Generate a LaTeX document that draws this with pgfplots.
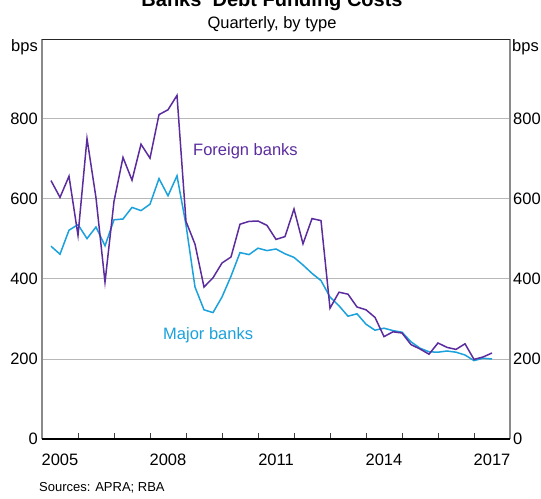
\documentclass[border=0pt]{standalone}
\usepackage{pgfplots}
\pgfplotsset{compat=1.18}
\usepackage{pgfplotstable}
\usepackage{fontspec}
\setmainfont{Liberation Sans}

\definecolor{foreign}{HTML}{5B2C9E}
\definecolor{major}{HTML}{1BA1DC}
\definecolor{gridgray}{HTML}{B8B8B8}
\definecolor{sidegray}{HTML}{8A8A8A}

% quarterly, bps
\pgfplotstableread{
x        foreign major
2005.25  646  482
2005.50  604  462
2005.75  657  522
2006.00  509  536
2006.25  751  501
2006.50  603  530
2006.75  392  483
2007.00  594  548
2007.25  704  550
2007.50  647  579
2007.75  737  571
2008.00  702  587
2008.25  811  651
2008.50  823  608
2008.75  859  658
2009.00  544  535
2009.25  487  380
2009.50  380  323
2009.75  403  316
2010.00  440  355
2010.25  455  407
2010.50  537  466
2010.75  544  461
2011.00  545  477
2011.25  534  471
2011.50  499  475
2011.75  506  463
2012.00  575  454
2012.25  488  435
2012.50  551  414
2012.75  546  396
2013.00  327  355
2013.25  367  333
2013.50  362  307
2013.75  330  313
2014.00  323  287
2014.25  304  272
2014.50  256  277
2014.75  268  271
2015.00  265  267
2015.25  236  243
2015.50  225  227
2015.75  212  218
2016.00  240  217
2016.25  229  220
2016.50  224  217
2016.75  238  210
2017.00  199  196
2017.25  205  202
2017.50  215  200
}\costs

\begin{document}
\begin{tikzpicture}
  \pgfplotsset{
    every tick label/.append style={font=\fontsize{16.5bp}{19bp}\selectfont},
    /pgf/number format/assume math mode=true,
  }
  \begin{axis}[
      at={(0,0)}, anchor=south west,
      width=468bp, height=400bp, scale only axis,
      xmin=2005, xmax=2018, ymin=0, ymax=1000,
      axis line style={draw=none},
      xtick={2006,...,2017}, xticklabels={},
      xtick pos=bottom, tick align=inside,
      major tick length=6bp,
      x tick style={draw=black!75, line width=0.8bp},
      extra x ticks={2005.5,2008.5,2011.5,2014.5,2017.5},
      extra x tick labels={2005,2008,2011,2014,2017},
      extra x tick style={major tick length=0pt, grid=none},
      xticklabel style={inner sep=0pt, anchor=north, yshift=-15bp},
      ytick={0,200,400,600,800},
      ytick pos=left,
      y tick style={draw=none},
      yticklabel style={inner sep=0pt, anchor=east, xshift=-4bp},
      ymajorgrids, grid style={gridgray, line width=1bp},
      clip=false,
    ]
    \draw[sidegray, line width=1.6bp] (rel axis cs:0,0) -- (rel axis cs:0,1);
    \draw[sidegray, line width=1.6bp] (rel axis cs:1,0) -- (rel axis cs:1,1);
    \draw[black!85, line width=0.8bp] (rel axis cs:0,1) -- (rel axis cs:1,1);
    \addplot[major, line width=1.5bp] table[x=x, y=major] {\costs};
    \addplot[foreign, line width=1.5bp] table[x=x, y=foreign] {\costs};
    \draw[black, line width=1.5bp] (rel axis cs:0,0) -- (rel axis cs:1,0);
  \end{axis}
  \begin{axis}[
      at={(0,0)}, anchor=south west,
      width=468bp, height=400bp, scale only axis,
      xmin=2005, xmax=2018, ymin=0, ymax=1000,
      axis x line=none, axis y line*=right,
      y axis line style={draw=none},
      ytick={0,200,400,600,800},
      y tick style={draw=none},
      yticklabel style={inner sep=0pt, anchor=west, xshift=3bp},
    ]
    \addplot[draw=none] coordinates {(2005,0)};
  \end{axis}

  \node[inner sep=0pt, anchor=base, font=\bfseries\fontsize{20bp}{24bp}\selectfont]
    at (230bp,432bp) {Banks' Debt Funding Costs};
  \node[inner sep=0pt, anchor=base, font=\fontsize{16.5bp}{19bp}\selectfont]
    at (230bp,410.5bp) {Quarterly, by type};
  \node[inner sep=0pt, anchor=base east, font=\fontsize{16.5bp}{19bp}\selectfont]
    at (-4bp,387bp) {bps};
  \node[inner sep=0pt, anchor=base west, font=\fontsize{16.5bp}{19bp}\selectfont]
    at (470bp,387bp) {bps};
  \node[inner sep=0pt, anchor=base west, text=foreign, font=\fontsize{16.5bp}{19bp}\selectfont]
    at (151bp,283bp) {Foreign banks};
  \node[inner sep=0pt, anchor=base west, text=major, font=\fontsize{16.5bp}{19bp}\selectfont]
    at (121bp,99bp) {Major banks};
  \node[inner sep=0pt, anchor=base west, font=\fontsize{13bp}{15bp}\selectfont]
    at (-3bp,-52bp) {Sources: APRA; RBA};

  \pgfresetboundingbox
  \useasboundingbox (-42bp,-60bp) rectangle (499bp,439bp);
\end{tikzpicture}
\end{document}
